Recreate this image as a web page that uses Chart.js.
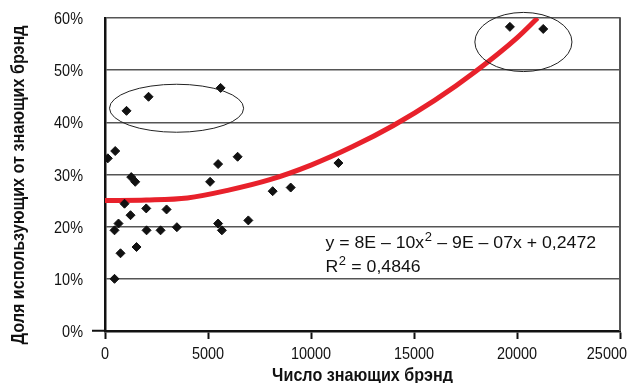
<!DOCTYPE html>
<html>
<head>
<meta charset="utf-8">
<script src="https://cdn.jsdelivr.net/npm/chart.js@4.4.0/dist/chart.umd.min.js"></script>
<style>
    body { margin: 0; background: #fff; }
    #caixa { width: 632px; height: 383px; }
</style>
</head>
<body>
<div id="caixa"><canvas id="grafico" width="632" height="383"></canvas></div>
<script>
// число знающих брэнд (ось X)
var znayut = [136, 496, 1045, 2114, 5612, 5490, 6438, 1273, 1467, 5102, 8139, 9014, 11331, 948, 2002,
    2988, 1239, 656, 462, 2017, 2697, 3489, 753, 1531, 462, 5490, 5675, 6958, 19655, 21273];
// доля использующих от знающих, %
var dolya = [33.1, 34.5, 42.2, 44.9, 46.6, 32.0, 33.4, 29.5, 28.6, 28.6, 26.8, 27.5, 32.2, 24.4, 23.5,
    23.3, 22.2, 20.6, 19.3, 19.3, 19.3, 19.9, 14.9, 16.1, 10.0, 20.6, 19.3, 21.2, 58.3, 57.9];

// линия тренда
var trendX = [0, 2000, 4000, 6000, 8000, 10000, 12000, 14000, 16000, 18000, 20000, 21000];
var trendY = [25.0, 25.1, 25.5, 27.0, 29.0, 31.8, 35.3, 39.4, 44.2, 49.8, 56.2, 60.0];

var xTicks = [0, 5000, 10000, 15000, 20000, 25000];
var yTicks = [0, 10, 20, 30, 40, 50, 60];

var tituloX = 'Число знающих брэнд';
var tituloY = 'Доля использующих от знающих брэнд';
var uravnenie = ['y = 8E \u2013 10x', '2', ' \u2013 9E \u2013 07x + 0,2472'];
var rKvadrat = ['R', '2', ' = 0,4846'];

// овалы (в единицах осей)
var ovaly = [
    { x: 3474, y: 42.7, rx: 3256, ry: 4.6 },
    { x: 20311, y: 55.4, rx: 2357, ry: 5.67 }
];
var posUravn = { x: 10700, y1: 16.0, y2: 11.3 };

var fonte = "'Liberation Sans', Arial, sans-serif";
var aperto = 0.85; // сжатие шрифта по горизонтали

function juntaPontos(xs, ys) {
    var res = [];
    for (var i = 0; i < xs.length; i++) {
        res.push({ x: xs[i], y: ys[i] });
    }
    return res;
}

// текст, сжатый по ширине
function escreve(ctx, txt, x, y, fnt, align, rot, esc) {
    ctx.save();
    ctx.translate(x, y);
    if (rot) ctx.rotate(rot);
    ctx.scale(esc || aperto, 1);
    ctx.font = fnt;
    ctx.textAlign = align;
    ctx.textBaseline = 'alphabetic';
    ctx.fillText(txt, 0, 0);
    ctx.restore();
}

function largura(ctx, txt, fnt, esc) {
    ctx.font = fnt;
    return ctx.measureText(txt).width * (esc || aperto);
}

function textoSup(ctx, partes, x, y) {
    var f1 = '17px ' + fonte, f2 = '12.5px ' + fonte, e = 1.04;
    escreve(ctx, partes[0], x, y, f1, 'left', 0, e);
    x += largura(ctx, partes[0], f1, e) + 0.5;
    escreve(ctx, partes[1], x, y - 7, f2, 'left', 0, e);
    x += largura(ctx, partes[1], f2, e) + 0.5;
    escreve(ctx, partes[2], x, y, f1, 'left', 0, e);
}

var extras = {
    id: 'extras',
    afterDraw: function (chart) {
        var ctx = chart.ctx;
        var sx = chart.scales.x, sy = chart.scales.y;
        var area = chart.chartArea;
        ctx.save();
        // рамка справа
        ctx.strokeStyle = '#555';
        ctx.lineWidth = 2;
        ctx.beginPath();
        ctx.moveTo(area.right, area.top - 0.75);
        ctx.lineTo(area.right, area.bottom);
        ctx.stroke();
        // овалы
        ctx.strokeStyle = '#222';
        ctx.lineWidth = 1;
        ovaly.forEach(function (o) {
            var cx = sx.getPixelForValue(o.x), cy = sy.getPixelForValue(o.y);
            var rx = sx.getPixelForValue(o.x + o.rx) - cx;
            var ry = cy - sy.getPixelForValue(o.y + o.ry);
            ctx.beginPath();
            ctx.ellipse(cx, cy, rx, ry, 0, 0, Math.PI * 2);
            ctx.stroke();
        });
        ctx.fillStyle = '#111';
        // подписи делений
        var fTick = '17px ' + fonte;
        sx.ticks.forEach(function (t) {
            var txt = String(t.value);
            var px = sx.getPixelForValue(t.value);
            var meia = largura(ctx, txt, fTick) / 2;
            if (px + meia > chart.width - 5) px = chart.width - 5 - meia;
            escreve(ctx, txt, px, area.bottom + 27.5, fTick, 'center');
        });
        sy.ticks.forEach(function (t) {
            escreve(ctx, t.value + '%', area.left - 22, sy.getPixelForValue(t.value) + 6, fTick, 'right');
        });
        // названия осей
        var fTit = 'bold 19px ' + fonte;
        escreve(ctx, tituloX, (area.left + area.right) / 2, 381, fTit, 'center');
        escreve(ctx, tituloY, 24, 185, fTit, 'center', -Math.PI / 2);
        // уравнение
        var ex = sx.getPixelForValue(posUravn.x);
        textoSup(ctx, uravnenie, ex, sy.getPixelForValue(posUravn.y1));
        textoSup(ctx, rKvadrat, ex, sy.getPixelForValue(posUravn.y2));
        ctx.restore();
    }
};

var ctx = document.getElementById('grafico');
var grafico = new Chart(ctx, {
    type: 'scatter',
    data: {
        datasets: [
            {
                data: juntaPontos(znayut, dolya),
                pointStyle: 'rectRot',
                pointRadius: 4.5,
                pointBackgroundColor: '#111',
                pointBorderColor: '#111',
                pointBorderWidth: 1,
                order: 1
            },
            {
                type: 'line',
                data: juntaPontos(trendX, trendY),
                borderColor: '#e8212b',
                borderWidth: 5,
                pointRadius: 0,
                fill: false,
                tension: 0.4,
                cubicInterpolationMode: 'monotone',
                order: 2
            }
        ]
    },
    options: {
        responsive: false,
        animation: false,
        layout: { padding: { left: 0, right: 12, top: 18, bottom: 0 } },
        plugins: { legend: { display: false }, tooltip: { enabled: false } },
        scales: {
            x: {
                type: 'linear',
                min: 0,
                max: 25000,
                afterBuildTicks: function (s) { s.ticks = xTicks.map(function (v) { return { value: v }; }); },
                afterFit: function (s) { s.height = 52; s.paddingLeft = 0; s.paddingRight = 0; },
                grid: { drawOnChartArea: false, drawTicks: true, tickLength: 8, tickColor: '#111', tickWidth: 2 },
                border: { color: '#111', width: 2.5 },
                ticks: { display: false },
                title: { display: false }
            },
            y: {
                min: 0,
                max: 60,
                afterBuildTicks: function (s) { s.ticks = yTicks.map(function (v) { return { value: v }; }); },
                afterFit: function (s) { s.width = 105; s.paddingTop = 0; s.paddingBottom = 0; },
                grid: {
                    color: '#555', lineWidth: 1.5, drawTicks: true, tickLength: 13, tickWidth: 2,
                    tickColor: function (c) { return c.tick && c.tick.value === 0 ? '#111' : 'rgba(0,0,0,0)'; }
                },
                border: { color: '#111', width: 2.5 },
                ticks: { display: false },
                title: { display: false }
            }
        }
    },
    plugins: [extras]
});
</script>
</body>
</html>
